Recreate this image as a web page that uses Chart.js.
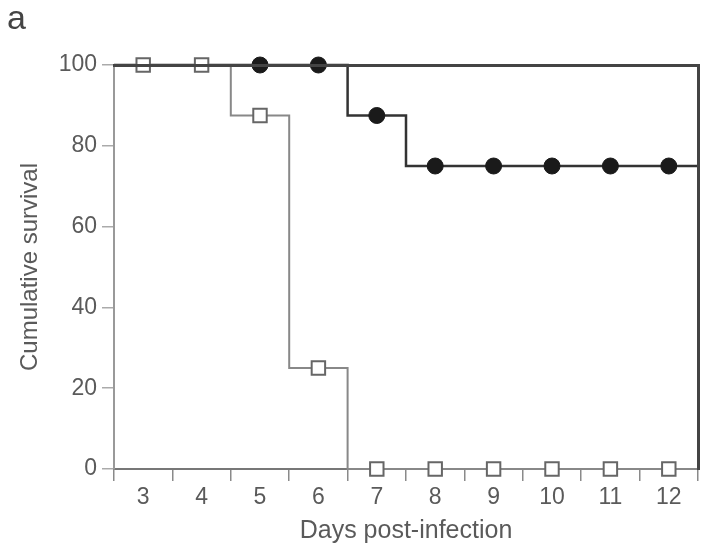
<!DOCTYPE html>
<html>
<head>
<meta charset="utf-8">
<script src="https://cdn.jsdelivr.net/npm/chart.js@4.4.1/dist/chart.umd.min.js"></script>
<style>
  html, body { margin: 0; padding: 0; background: #ffffff; }
  #wrap { width: 702px; height: 555px; }
</style>
</head>
<body>
<div id="wrap"><canvas id="c" width="702" height="555"></canvas></div>
<script>
// ---- data ----
const days = [3, 4, 5, 6, 7, 8, 9, 10, 11, 12];
const survivalFilled = [100, 100, 100, 100, 87.5, 75, 75, 75, 75, 75];
const survivalOpen = [100, 100, 87.5, 25, 0, 0, 0, 0, 0, 0];
const dayLabels = days.map(String);
const yTickValues = [0, 20, 40, 60, 80, 100];
const followUpStart = 2.5;
const followUpEnd = 12.5;
const firstFilledMarkerDay = 5;

function kmPoints(vals) {
  const pts = [{ x: followUpStart, y: vals[0] }];
  days.forEach((d, i) => pts.push({ x: d, y: vals[i] }));
  pts.push({ x: followUpEnd, y: vals[vals.length - 1] });
  return pts;
}

const FONT = '"Liberation Sans", Arial, Helvetica, sans-serif';
const TEXT = '#5a5a5a';

const panelLabel = {
  id: 'panelLabel',
  afterDraw(chart) {
    const c = chart.ctx;
    c.save();
    c.font = '34px ' + FONT;
    c.fillStyle = '#444444';
    c.textBaseline = 'alphabetic';
    c.textAlign = 'left';
    c.fillText('a', 7, 29);
    c.restore();
  }
};

new Chart(document.getElementById('c'), {
  type: 'line',
  data: {
    datasets: [
      {
        label: 'Open squares',
        data: kmPoints(survivalOpen),
        xAxisID: 'x',
        yAxisID: 'y',
        stepped: 'middle',
        borderColor: '#888888',
        borderWidth: 2,
        fill: false,
        clip: false,
        pointStyle: 'rect',
        pointRadius: ctx => (!ctx.raw || ctx.raw.x === followUpStart || ctx.raw.x === followUpEnd) ? 0 : 9.5,
        pointBackgroundColor: '#ffffff',
        pointBorderColor: '#666666',
        pointBorderWidth: 2
      },
      {
        label: 'Filled circles',
        data: kmPoints(survivalFilled),
        xAxisID: 'x',
        yAxisID: 'y',
        stepped: 'middle',
        borderColor: '#333333',
        borderWidth: 2.5,
        fill: false,
        clip: false,
        pointStyle: 'circle',
        pointRadius: ctx => (!ctx.raw || ctx.raw.x < firstFilledMarkerDay || ctx.raw.x === followUpEnd) ? 0 : 8,
        pointBackgroundColor: '#1a1a1a',
        pointBorderColor: '#1a1a1a',
        pointBorderWidth: 1
      }
    ]
  },
  options: {
    responsive: false,
    animation: false,
    devicePixelRatio: 1,
    layout: { padding: 0 },
    plugins: {
      legend: { display: false },
      tooltip: { enabled: false },
      title: { display: false }
    },
    scales: {
      x: {
        type: 'linear',
        display: false,
        min: followUpStart,
        max: followUpEnd
      },
      xc: {
        type: 'category',
        position: 'bottom',
        labels: dayLabels,
        min: dayLabels[0],
        max: dayLabels[dayLabels.length - 1],
        offset: true,
        grid: {
          offset: true,
          drawOnChartArea: false,
          drawTicks: true,
          tickLength: 12,
          color: '#8a8a8a',
          lineWidth: 1.5
        },
        border: { color: '#777777', width: 2 },
        ticks: {
          font: { family: FONT, size: 23 },
          color: TEXT,
          padding: 3,
          maxRotation: 0,
          autoSkip: false
        },
        title: {
          display: true,
          text: 'Days post-infection',
          font: { family: FONT, size: 25 },
          color: TEXT,
          padding: { top: 0, bottom: 9 }
        },
        afterFit: s => { s.height = 86; }
      },
      y: {
        type: 'linear',
        position: 'left',
        min: 0,
        max: 100,
        afterBuildTicks: s => { s.ticks = yTickValues.map(v => ({ value: v })); },
        grid: {
          drawOnChartArea: false,
          tickLength: 12,
          color: '#aaaaaa',
          lineWidth: 1.5
        },
        border: { color: '#999999', width: 2 },
        ticks: {
          font: { family: FONT, size: 23 },
          color: TEXT,
          padding: 5
        },
        title: {
          display: true,
          text: 'Cumulative survival',
          font: { family: FONT, size: 24 },
          color: TEXT,
          padding: { top: 16, bottom: 0 }
        },
        afterFit: s => { s.width = 114; }
      },
      xTop: {
        type: 'linear',
        position: 'top',
        ticks: { display: false },
        grid: { drawOnChartArea: false, drawTicks: false },
        border: { color: '#444444', width: 3, z: 1 },
        afterFit: s => { s.height = 65; }
      },
      yRight: {
        type: 'linear',
        position: 'right',
        ticks: { display: false },
        grid: { drawOnChartArea: false, drawTicks: false },
        border: { color: '#444444', width: 3, z: 1 },
        afterFit: s => { s.width = 4; }
      }
    }
  },
  plugins: [panelLabel]
});
</script>
</body>
</html>
